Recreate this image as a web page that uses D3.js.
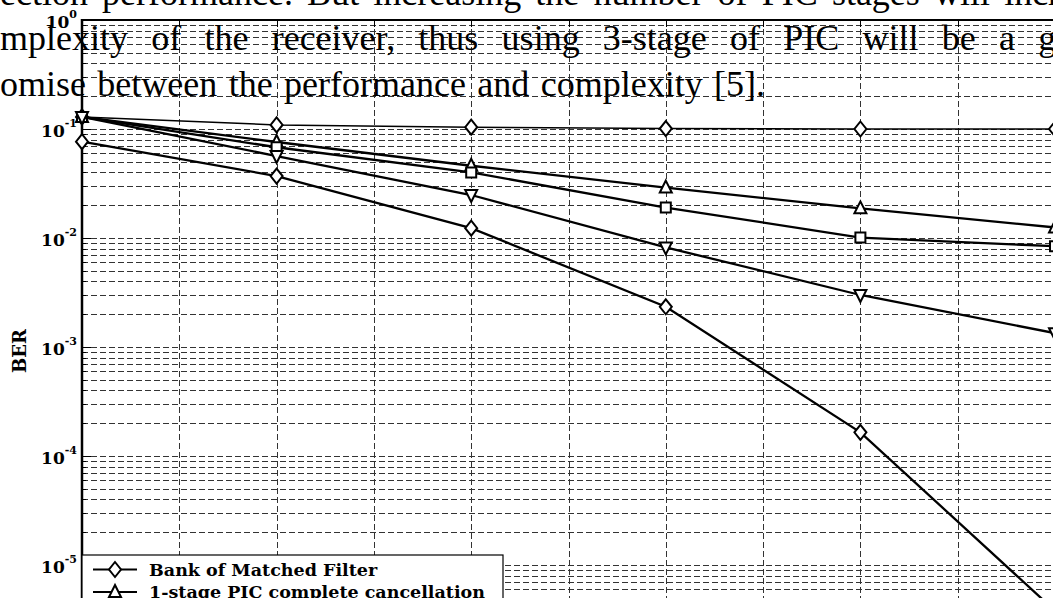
<!DOCTYPE html>
<html>
<head>
<meta charset="utf-8">
<script src="https://cdn.jsdelivr.net/npm/d3@7"></script>
<style>
body { margin: 0; background: #fff; overflow: hidden; }
svg { display: block; }
</style>
</head>
<body>
<svg id="chart" width="1053" height="598"></svg>
<script>
// SNR points (dB) and BER of each receiver
var snr = [0, 2, 4, 6, 8, 10];
var seriesNames = [
    'Bank of Matched Filter',
    '1-stage PIC complete cancellation',
    '2-stage PIC complete cancellation',
    '3-stage PIC complete cancellation',
    'Single user bound'
];
var berBMF  = [0.129, 0.109, 0.104, 0.101, 0.100, 0.100];
var berPIC1 = [0.129, 0.076, 0.046, 0.029, 0.0187, 0.0125];
var berPIC2 = [0.129, 0.068, 0.040, 0.019, 0.0101, 0.0084];
var berPIC3 = [0.129, 0.0565, 0.0248, 0.0082, 0.0030, 0.00134];
var berSU   = [0.0765, 0.037, 0.0123, 0.00234, 0.000165, 0.0000038];
var seriesMarkers = ['diamond', 'triangle', 'square', 'triangleDown', 'diamond'];

// y tick exponents (labels are 10^k)
var yTickExp = [0, -1, -2, -3, -4, -5, -6];

// paragraph text lying over the figure
var paraLines = [
    'ection performance. But increasing the number of PIC stages will increase the',
    'mplexity of the receiver, thus using 3-stage of PIC will be a good compr',
    'omise between the performance and complexity [5].'
];
var paraFitText = [
    'ection performance. But increasing the number of PIC stages will',
    'mplexity of the receiver, thus using 3-stage of PIC will be a',
    'omise between the performance and complexity [5].'
];
var paraFitWidth = [990, 1015, 765];

var allSeries = [berBMF, berPIC1, berPIC2, berPIC3, berSU];

var svg = d3.select('#chart');

var plot = {l: 82, t: 20, xStep: 97.3, decade: 109};

var xScale = d3.scaleLinear()
    .domain([0, 12])
    .range([plot.l, plot.l + 12 * plot.xStep]);

var yScale = d3.scaleLog()
    .domain([1, 1e-6])
    .range([plot.t, plot.t + 6 * plot.decade]);

var xMax = xScale.range()[1];
var yMax = yScale.range()[1];

// grid
var gridG = svg.append('g')
    .attr('stroke', '#333')
    .attr('stroke-width', 1)
    .attr('stroke-dasharray', '6,3')
    .attr('shape-rendering', 'crispEdges');

var xGrid = d3.range(1, 13);
gridG.selectAll('.vgrid')
    .data(xGrid)
    .enter().append('line')
    .attr('class', 'vgrid')
    .attr('x1', function(d) { return Math.round(xScale(d)) + 0.5; })
    .attr('x2', function(d) { return Math.round(xScale(d)) + 0.5; })
    .attr('y1', plot.t)
    .attr('y2', yMax);

var yGrid = [];
yTickExp.forEach(function(k) {
    for (var m = 1; m <= 9; m++) {
        var v = m * Math.pow(10, k);
        if (v < 1) yGrid.push(v);
    }
});
gridG.selectAll('.hgrid')
    .data(yGrid)
    .enter().append('line')
    .attr('class', 'hgrid')
    .attr('x1', plot.l)
    .attr('x2', xMax)
    .attr('y1', function(d) { return Math.round(yScale(d)) + 0.5; })
    .attr('y2', function(d) { return Math.round(yScale(d)) + 0.5; });

// axis ticks
var tickG = svg.append('g')
    .attr('stroke', '#000')
    .attr('stroke-width', 1.5)
    .attr('shape-rendering', 'crispEdges');

tickG.selectAll('.ytick')
    .data(yGrid.concat([1]))
    .enter().append('line')
    .attr('x1', plot.l)
    .attr('x2', function(d) {
        var isMajor = Math.abs(Math.log10(d) - Math.round(Math.log10(d))) < 1e-9;
        return plot.l + (isMajor ? 9 : 4);
    })
    .attr('y1', function(d) { return Math.round(yScale(d)) + 0.5; })
    .attr('y2', function(d) { return Math.round(yScale(d)) + 0.5; });

tickG.selectAll('.xtick')
    .data(xGrid)
    .enter().append('line')
    .attr('x1', function(d) { return Math.round(xScale(d)) + 0.5; })
    .attr('x2', function(d) { return Math.round(xScale(d)) + 0.5; })
    .attr('y1', plot.t)
    .attr('y2', plot.t + 7);

// axes lines
svg.append('line')
    .attr('x1', plot.l).attr('x2', plot.l)
    .attr('y1', plot.t - 1).attr('y2', yMax)
    .attr('stroke', '#000').attr('stroke-width', 2.5);
svg.append('line')
    .attr('x1', plot.l).attr('x2', xMax)
    .attr('y1', plot.t).attr('y2', plot.t)
    .attr('stroke', '#000').attr('stroke-width', 2);

// y tick labels
var labelG = svg.append('g')
    .attr('font-family', '"DejaVu Serif", serif')
    .attr('font-weight', 'bold')
    .attr('fill', '#000');

var tl = labelG.selectAll('.ylabel')
    .data(yTickExp)
    .enter().append('text')
    .attr('class', 'ylabel')
    .attr('x', plot.l - 5)
    .attr('y', function(d) { return yScale(Math.pow(10, d)) + 8; })
    .attr('text-anchor', 'end')
    .attr('font-size', '17px');
tl.append('tspan').text('10');
tl.append('tspan')
    .attr('dy', -10)
    .attr('font-size', '11px')
    .text(function(d) { return d === 0 ? '0' : String(d); });

labelG.append('text')
    .attr('transform', 'translate(26,351) rotate(-90)')
    .attr('text-anchor', 'middle')
    .attr('font-size', '18px')
    .text('BER');

// marker shapes
function markerPath(type) {
    if (type === 'diamond') return 'M0,-7.5L6,0L0,7.5L-6,0Z';
    if (type === 'triangle') return 'M0,-7L6,5L-6,5Z';
    if (type === 'triangleDown') return 'M0,7L6,-5L-6,-5Z';
    return 'M-5,-5L5,-5L5,5L-5,5Z';
}

var line = d3.line()
    .x(function(d, i) { return xScale(snr[i]); })
    .y(function(d) { return yScale(d); });

var seriesG = svg.selectAll('.series')
    .data(allSeries)
    .enter().append('g')
    .attr('class', 'series');

seriesG.append('path')
    .attr('d', function(d) { return line(d); })
    .attr('fill', 'none')
    .attr('stroke', '#000')
    .attr('stroke-width', function(d, i) { return i === 0 ? 1.5 : 2.3; });

seriesG.each(function(d, si) {
    d3.select(this).selectAll('.mk')
        .data(d)
        .enter().append('path')
        .attr('class', 'mk')
        .attr('transform', function(v, i) {
            return 'translate(' + [xScale(snr[i]), yScale(v)] + ')';
        })
        .attr('d', markerPath(seriesMarkers[si]))
        .attr('fill', '#fff')
        .attr('stroke', '#000')
        .attr('stroke-width', 2);
});

// legend
var legendG = svg.append('g')
    .attr('transform', 'translate(' + [plot.l, 555] + ')');

legendG.append('rect')
    .attr('x', 0).attr('y', 0)
    .attr('width', 421).attr('height', 125)
    .attr('fill', '#fff')
    .attr('stroke', '#000')
    .attr('stroke-width', 1.2);

var rows = legendG.selectAll('.lrow')
    .data(seriesNames)
    .enter().append('g')
    .attr('class', 'lrow')
    .attr('transform', function(d, i) { return 'translate(0,' + (14.5 + i * 22.5) + ')'; });

rows.append('line')
    .attr('x1', 11).attr('x2', 55)
    .attr('y1', 0).attr('y2', 0)
    .attr('stroke', '#000')
    .attr('stroke-width', 2);
rows.append('path')
    .attr('transform', 'translate(33,0)')
    .attr('d', function(d, i) { return markerPath(seriesMarkers[i]); })
    .attr('fill', '#fff')
    .attr('stroke', '#000')
    .attr('stroke-width', 2);
rows.append('text')
    .attr('x', 67)
    .attr('y', 6)
    .attr('font-family', '"DejaVu Serif", serif')
    .attr('font-weight', 'bold')
    .attr('font-size', '17.5px')
    .text(function(d) { return d; });

// paragraph overlay, justified with word spacing
var paraG = svg.append('g')
    .attr('font-family', '"Liberation Serif", "Times New Roman", serif')
    .attr('font-size', '36px')
    .attr('fill', '#000');

var baselines = [5, 50, 96];
paraLines.forEach(function(txt, i) {
    var probe = paraG.append('text').attr('x', 0).attr('y', -100).text(paraFitText[i]);
    var natural = probe.node().getComputedTextLength();
    probe.remove();
    var gaps = paraFitText[i].split(' ').length - 1;
    var ws = (paraFitWidth[i] - natural) / gaps;
    paraG.append('text')
        .attr('x', 0)
        .attr('y', baselines[i])
        .attr('word-spacing', ws)
        .text(txt);
});
</script>
</body>
</html>
